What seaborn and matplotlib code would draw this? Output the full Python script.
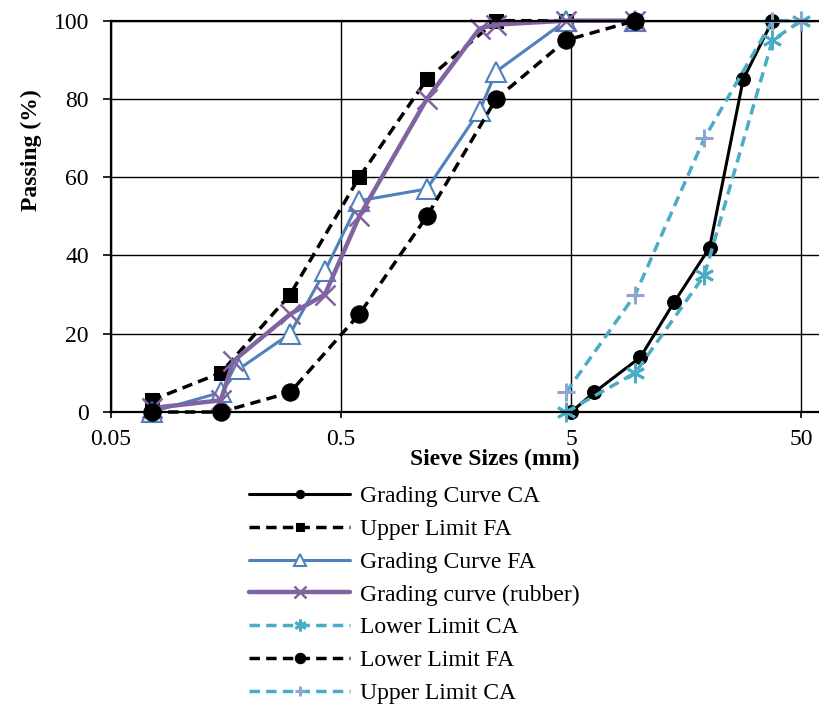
import numpy as np
import pandas as pd
import matplotlib
matplotlib.use("Agg")
import matplotlib.pyplot as plt
import seaborn as sns

# Sieve sizes (mm) and percent passing
ca_sizes = [5, 6.3, 10, 14, 20, 28, 37.5]
ca_passing = [0, 5, 14, 28, 42, 85, 100]

fa_limit_sizes = [0.075, 0.15, 0.3, 0.6, 1.18, 2.36, 4.75, 9.5]
fa_upper = [3, 10, 30, 60, 85, 100, 100, 100]
fa_lower = [0, 0, 5, 25, 50, 80, 95, 100]

fa_sizes = [0.075, 0.15, 0.18, 0.3, 0.425, 0.6, 1.18, 2.0, 2.36, 4.75, 9.5]
fa_passing = [0, 5, 11, 20, 36, 54, 57, 77, 87, 100, 100]

rubber_sizes = [0.075, 0.15, 0.17, 0.3, 0.425, 0.6, 1.18, 2.0, 2.36, 4.75, 9.5]
rubber_passing = [1, 3, 13, 25, 30, 50, 80, 98, 99, 100, 100]

ca_limit_sizes = [4.75, 9.5, 19, 37.5, 50]
ca_lower = [0, 10, 35, 95, 100]
ca_upper = [5, 30, 70, 100, 100]

x_ticks = [0.05, 0.5, 5, 50]
x_tick_labels = ["0.05", "0.5", "5", "50"]
y_ticks = [0, 20, 40, 60, 80, 100]

# Style
sns.set_style("white")
plt.rcParams["font.family"] = ["Liberation Serif", "DejaVu Serif"]
plt.rcParams["text.color"] = "black"
plt.rcParams["axes.labelcolor"] = "black"

fig = plt.figure(figsize=(8.2, 7.06), dpi=100)
ax = fig.add_axes([0.1354, 0.4164, 0.8826, 0.5543])

black = "#000000"
blue = "#4F81BD"
purple = "#8064A2"
teal = "#4BACC6"
lavender = "#8EA4D2"
dash = (3, 1.8)

# series drawn in legend order
series = [
    ("Grading Curve CA", ca_sizes, ca_passing,
     dict(color=black, lw=2.2, marker="o", markersize=10,
          markerfacecolor=black, markeredgecolor=black)),
    ("Upper Limit FA", fa_limit_sizes, fa_upper,
     dict(color=black, lw=2.5, dashes=dash, marker="s", markersize=10,
          markerfacecolor=black, markeredgecolor=black)),
    ("Grading Curve FA", fa_sizes, fa_passing,
     dict(color=blue, lw=2.2, marker="^", markersize=15,
          markerfacecolor="white", markeredgecolor=blue, markeredgewidth=1.5)),
    ("Grading curve (rubber)", rubber_sizes, rubber_passing,
     dict(color=purple, lw=3.2, marker="x", markersize=15,
          markeredgecolor=purple, markeredgewidth=1.8)),
    ("Lower Limit CA", ca_limit_sizes, ca_lower,
     dict(color=teal, lw=2.5, dashes=dash, marker=(6, 2, 0), markersize=14,
          markeredgecolor=teal, markeredgewidth=2)),
    ("Lower Limit FA", fa_limit_sizes, fa_lower,
     dict(color=black, lw=2.5, dashes=dash, marker="o", markersize=12.5,
          markerfacecolor=black, markeredgecolor=black)),
    ("Upper Limit CA", ca_limit_sizes, ca_upper,
     dict(color=teal, lw=2.5, dashes=dash, marker="+", markersize=13,
          markeredgecolor=lavender, markeredgewidth=2.2)),
]

for name, xs, ys, style in series:
    df = pd.DataFrame({"size": xs, "passing": ys})
    sns.lineplot(data=df, x="size", y="passing", ax=ax, label=name,
                 estimator=None, errorbar=None, legend=False, clip_on=False,
                 **style)

ax.set_xscale("log")
ax.set_xlim(0.05, 70)
ax.set_ylim(0, 100)
ax.set_xticks(x_ticks)
ax.set_xticklabels(x_tick_labels)
ax.xaxis.set_minor_locator(matplotlib.ticker.NullLocator())
ax.set_yticks(y_ticks)

ax.grid(True, color="black", lw=1.0)
ax.set_axisbelow(True)
for side in ["left", "bottom", "top"]:
    ax.spines[side].set_color("black")
    ax.spines[side].set_linewidth(1.6)
ax.spines["right"].set_visible(False)

ax.tick_params(axis="y", direction="out", length=6, width=1.2, pad=10,
               labelsize=17, colors="black", left=True)
ax.tick_params(axis="x", direction="out", length=4, width=1.2, pad=8,
               labelsize=17, colors="black", bottom=True)

ax.set_ylabel("Passing (%)", fontsize=17, fontweight="bold")
ax.yaxis.set_label_coords(-0.095, 0.669)
ax.set_xlabel("Sieve Sizes (mm)", fontsize=17, fontweight="bold")
ax.xaxis.set_label_coords(0.5306, -0.095)

handles, labels = ax.get_legend_handles_labels()
fig.legend(handles, labels, loc="upper left", bbox_to_anchor=(0.289, 0.3285),
           frameon=False, fontsize=17, handlelength=4.3, handletextpad=0.42,
           labelspacing=0.475, borderpad=0, markerscale=0.6)

fig.savefig("out.png", dpi=100)
